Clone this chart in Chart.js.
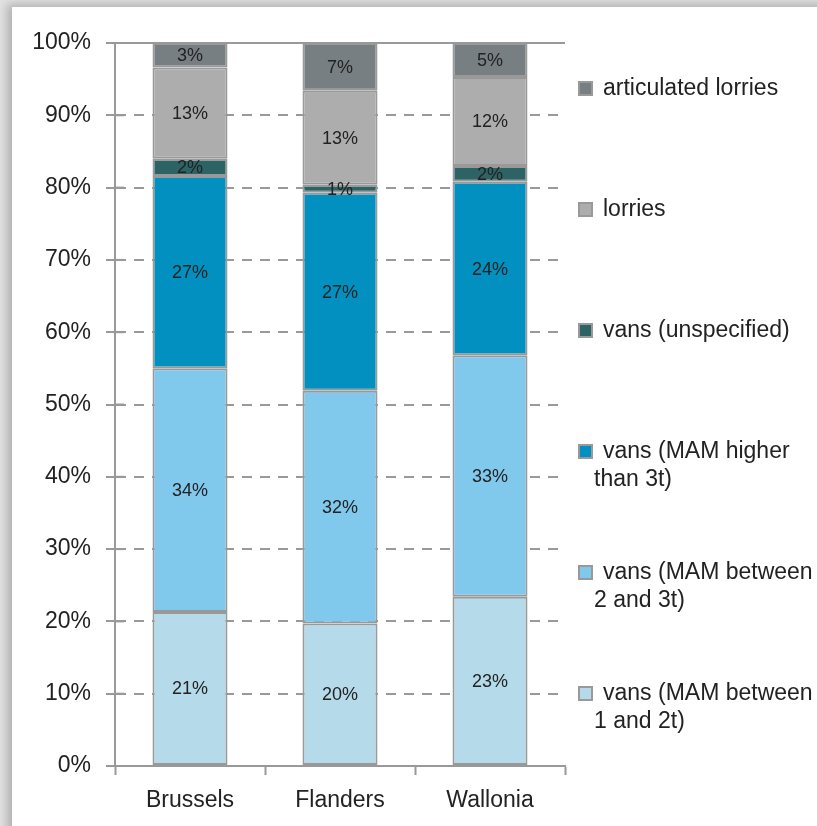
<!DOCTYPE html>
<html>
<head>
<meta charset="utf-8">
<script src="https://cdn.jsdelivr.net/npm/chart.js@4/dist/chart.umd.min.js"></script>
<style>
  html, body { margin: 0; padding: 0; background: #fff; overflow: hidden; }
  #wrap { position: relative; width: 817px; height: 826px; overflow: hidden; background: #e2e2e2; }
  #card { position: absolute; left: 12px; top: 7px; width: 840px; height: 850px; background: #fff;
          box-shadow: -5px -3px 9px rgba(0,0,0,0.22); }
  #c { position: absolute; left: 0; top: 0; }
</style>
</head>
<body>
<div id="wrap">
  <div id="card"></div>
  <canvas id="c" width="817" height="826"></canvas>
</div>
<script>
// Regions
const categories = ['Brussels', 'Flanders', 'Wallonia'];

// Share of vehicles per type (%), per region
const vans1to2t      = [21.3, 19.7, 23.4];
const vans2to3t      = [33.7, 32.2, 33.4];
const vansAbove3t    = [26.6, 27.4, 24.0];
const vansUnspecified= [2.4, 1.1, 2.2];
const lorries        = [12.6, 13.0, 12.3];
const articulated    = [3.4, 6.6, 4.7];

const seriesNames = [
  'vans (MAM between 1 and 2t)',
  'vans (MAM between 2 and 3t)',
  'vans (MAM higher than 3t)',
  'vans (unspecified)',
  'lorries',
  'articulated lorries'
];
const seriesValues = [vans1to2t, vans2to3t, vansAbove3t, vansUnspecified, lorries, articulated];
const seriesColors = ['#b5daea', '#80c8ec', '#0290c0', '#2d6365', '#adadad', '#787f83'];

const yTicks = [0, 10, 20, 30, 40, 50, 60, 70, 80, 90, 100];

const FONT = "'Liberation Sans', Arial, sans-serif";
const TEXT = '#222222';
const AXIS = '#999999';

// Value labels centred in each segment
const segmentLabels = {
  id: 'segmentLabels',
  afterDatasetsDraw(chart) {
    const ctx = chart.ctx;
    ctx.save();
    ctx.font = '18px ' + FONT;
    ctx.fillStyle = TEXT;
    ctx.textAlign = 'center';
    ctx.textBaseline = 'middle';
    chart.data.datasets.forEach((ds, i) => {
      const meta = chart.getDatasetMeta(i);
      meta.data.forEach((bar, j) => {
        const v = ds.data[j];
        const yc = (bar.y + bar.base) / 2;
        ctx.fillText(Math.round(v) + '%', bar.x, yc + 1);
      });
    });
    ctx.restore();
  }
};

// Solid frame line at the top of the value axis, and tick marks crossing the axis
const topLine = {
  id: 'topLine',
  beforeDatasetsDraw(chart) {
    const y = chart.scales.y.getPixelForValue(100);
    const ctx = chart.ctx;
    ctx.save();
    ctx.strokeStyle = AXIS;
    ctx.lineWidth = 2;
    ctx.beginPath();
    ctx.moveTo(chart.chartArea.left - 9, y);
    ctx.lineTo(chart.chartArea.right, y);
    ctx.stroke();
    yTicks.forEach(t => {
      const yy = chart.scales.y.getPixelForValue(t);
      ctx.beginPath();
      ctx.moveTo(chart.chartArea.left, yy);
      ctx.lineTo(chart.chartArea.left + 9, yy);
      ctx.stroke();
    });
    ctx.restore();
  }
};

// Legend on the right, top series first
const sideLegend = {
  id: 'sideLegend',
  afterDraw(chart) {
    const ctx = chart.ctx;
    ctx.save();
    ctx.font = '23px ' + FONT;
    ctx.textBaseline = 'middle';
    const maxW = 214;
    const items = chart.data.datasets.slice().reverse();
    items.forEach((ds, k) => {
      const y0 = 89 + k * 121;
      ctx.fillStyle = ds.backgroundColor;
      ctx.fillRect(579, y0 - 7, 13, 13);
      ctx.strokeStyle = AXIS;
      ctx.lineWidth = 2;
      ctx.strokeRect(579, y0 - 7, 13, 13);
      ctx.fillStyle = TEXT;
      const words = ds.label.split(' ');
      const lines = [];
      let cur = '';
      words.forEach(w => {
        const test = cur ? cur + ' ' + w : w;
        if (ctx.measureText(test).width > maxW && cur) { lines.push(cur); cur = w; }
        else cur = test;
      });
      lines.push(cur);
      lines.forEach((ln, li) => {
        ctx.fillText(ln, li === 0 ? 603 : 594, y0 + li * 28);
      });
    });
    ctx.restore();
  }
};

new Chart(document.getElementById('c'), {
  type: 'bar',
  data: {
    labels: categories,
    datasets: seriesNames.map((name, i) => ({
      label: name,
      data: seriesValues[i],
      backgroundColor: seriesColors[i],
      borderColor: AXIS,
      borderWidth: 2,
      borderSkipped: false,
      barPercentage: 0.5,
      categoryPercentage: 1.0
    }))
  },
  options: {
    responsive: false,
    animation: false,
    devicePixelRatio: 1,
    layout: { padding: { left: 0, top: 43, right: 252, bottom: 0 } },
    plugins: { legend: { display: false }, tooltip: { enabled: false } },
    scales: {
      x: {
        stacked: true,
        grid: {
          offset: true,
          drawOnChartArea: false,
          drawTicks: true,
          tickLength: 9,
          tickColor: AXIS,
          tickWidth: 2,
          color: AXIS
        },
        border: { display: true, color: AXIS, width: 2 },
        ticks: { color: TEXT, font: { family: FONT, size: 23 }, padding: 12 },
        afterFit(scale) { scale.height = 60; }
      },
      y: {
        stacked: true,
        min: 0,
        max: 100,
        afterBuildTicks(scale) { scale.ticks = yTicks.map(v => ({ value: v })); },
        grid: {
          drawOnChartArea: true,
          drawTicks: true,
          tickLength: 9,
          lineWidth: 2,
          color: ctx => (ctx.tick && (ctx.tick.value === 100 || ctx.tick.value === 0)) ? 'rgba(0,0,0,0)' : AXIS,
          tickColor: AXIS,
          tickWidth: 2,
          tickBorderDash: []
        },
        border: { display: true, color: AXIS, width: 2, dash: [10, 8] },
        ticks: {
          color: TEXT,
          font: { family: FONT, size: 23 },
          padding: 15,
          callback: v => v + '%'
        },
        afterFit(scale) { scale.width = 115; }
      }
    }
  },
  plugins: [topLine, segmentLabels, sideLegend]
});
</script>
</body>
</html>
